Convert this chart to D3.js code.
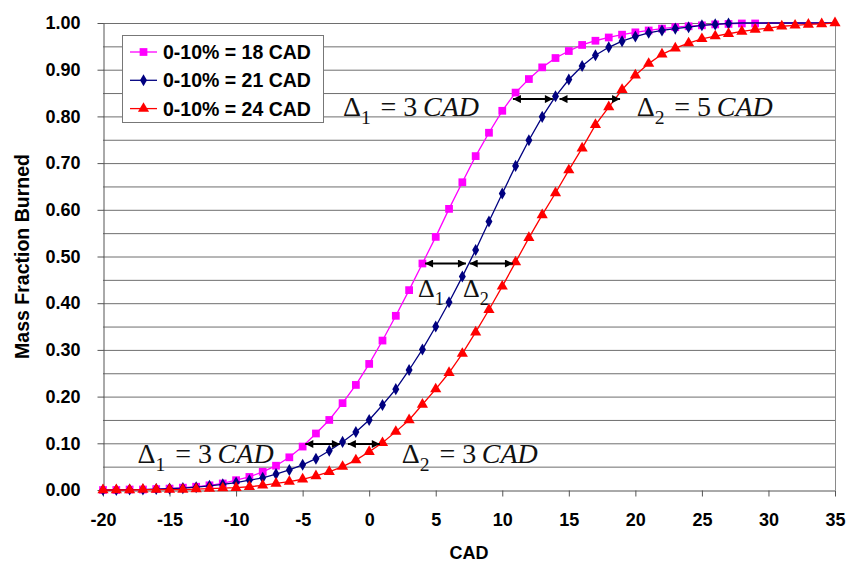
<!DOCTYPE html>
<html>
<head>
<meta charset="utf-8">
<script src="https://cdn.jsdelivr.net/npm/d3@7"></script>
<style>
  body { margin: 0; background: #fff; }
  svg { display: block; }
</style>
</head>
<body>
<svg width="847" height="563"></svg>
<script>
//crank angle grid, one point per degree
const cad = [-20,-19,-18,-17,-16,-15,-14,-13,-12,-11,-10,-9,-8,-7,-6,-5,-4,-3,-2,-1,
  0,1,2,3,4,5,6,7,8,9,10,11,12,13,14,15,16,17,18,19,20,21,22,23,24,25,26,27,28,29,30,31,32,33,34,35]

//mass fraction burned
const mfb18 = [0.000,0.000,0.001,0.001,0.002,0.003,0.005,0.007,0.010,0.014,0.021,0.028,0.039,0.052,0.070,0.093,0.121,0.150,0.186,0.225,
  0.270,0.320,0.373,0.428,0.485,0.542,0.602,0.659,0.715,0.765,0.812,0.851,0.880,0.905,0.925,0.940,0.953,0.962,0.969,0.975,
  0.980,0.984,0.988,0.991,0.993,0.995,0.997,0.998,0.999,0.999,1.000,1.000,1.000,1.000,1.000,1.000]
const mfb21 = [0.000,0.000,0.001,0.001,0.002,0.003,0.004,0.006,0.009,0.012,0.016,0.021,0.026,0.034,0.043,0.054,0.067,0.084,0.103,0.124,
  0.150,0.182,0.216,0.257,0.301,0.350,0.402,0.457,0.514,0.575,0.635,0.694,0.749,0.799,0.843,0.879,0.908,0.931,0.948,0.961,
  0.971,0.979,0.984,0.988,0.991,0.995,0.997,0.999,1.000,1.000,1.000,1.000,1.000,1.000,1.000,1.000]
const mfb24 = [0.000,0.000,0.000,0.001,0.001,0.001,0.001,0.002,0.003,0.004,0.005,0.007,0.010,0.014,0.018,0.023,0.030,0.039,0.050,0.064,
  0.082,0.101,0.125,0.150,0.183,0.216,0.251,0.292,0.338,0.386,0.436,0.488,0.540,0.589,0.636,0.685,0.732,0.782,0.820,0.857,
  0.888,0.913,0.933,0.946,0.957,0.966,0.972,0.977,0.982,0.986,0.989,0.993,0.995,0.997,0.998,1.000]

const seriesNames = ["0-10% = 18 CAD", "0-10% = 21 CAD", "0-10% = 24 CAD"]
//last crank angle that carries a marker
const markerEnd = [29, 27, 35]

const yTicks = [0, 0.1, 0.2, 0.3, 0.4, 0.5, 0.6, 0.7, 0.8, 0.9, 1.0]
const yGrid = [0.05, 0.1, 0.15, 0.2, 0.25, 0.3, 0.35, 0.4, 0.45, 0.5, 0.55, 0.6, 0.65, 0.7, 0.75, 0.8, 0.85, 0.9, 0.95, 1.0]
const xTicks = [-20, -15, -10, -5, 0, 5, 10, 15, 20, 25, 30, 35]

//double arrows between curves: [from, to, level]
const arrows = [
  [10.8, 13.8, 0.837], [14.3, 18.85, 0.837],
  [4.2, 7.27, 0.485], [7.55, 10.8, 0.485],
  [-4.8, -2.2, 0.0985], [-1.6, 0.8, 0.0985]
]
//delta labels: [cad, fraction, subscript, rest, size]
const deltaLabels = [
  [-1.97, 0.801, "1", "= 3", 28],
  [20.1, 0.801, "2", "= 5", 28],
  [3.67, 0.413, "1", "", 26],
  [7.05, 0.413, "2", "", 26],
  [-17.4, 0.058, "1", "= 3", 28],
  [2.45, 0.058, "2", "= 3", 28]
]

const svg = d3.select("svg")
  , width = +svg.attr("width")
  , height = +svg.attr("height")
  , margin = {top: 23, right: 12, bottom: 73, left: 103}

const x = d3.scaleLinear().domain([-20, 35]).range([margin.left, width - margin.right])
const y = d3.scaleLinear().domain([0, 1]).range([height - margin.bottom, margin.top])

const styles = [
  {color: "#ff00ff", shape: d3.symbolSquare, size: 60},
  {color: "#000080", shape: d3.symbolDiamond, size: 42},
  {color: "#ff0000", shape: d3.symbolTriangle, size: 54}
]
const series = [mfb18, mfb21, mfb24].map((vals, i) => ({
  name: seriesNames[i],
  style: styles[i],
  last: markerEnd[i],
  points: cad.map((c, j) => ({c: c, v: vals[j]}))
}))

//horizontal grid
svg.append("g").selectAll("line").data(yGrid).enter().append("line")
  .attr("x1", x(-20)).attr("x2", x(35))
  .attr("y1", d => y(d) + 0.5).attr("y2", d => y(d) + 0.5)
  .attr("stroke", "#6e6e6e").attr("stroke-width", 1)

//right border
svg.append("line")
  .attr("x1", x(35) + 0.5).attr("x2", x(35) + 0.5)
  .attr("y1", y(1)).attr("y2", y(0))
  .attr("stroke", "#8a8a8a")

//axes, plain hyphen for negatives like the source
const xAxis = svg.append("g")
  .attr("transform", "translate(0," + (y(0) + 0.5) + ")")
  .call(d3.axisBottom(x).tickValues(xTicks).tickFormat(d => String(d)).tickSize(6).tickPadding(17).tickSizeOuter(0))
const yAxis = svg.append("g")
  .attr("transform", "translate(" + (x(-20) + 0.5) + ",0)")
  .call(d3.axisLeft(y).tickValues(yTicks).tickFormat(d => d.toFixed(2)).tickSize(6).tickPadding(17).tickSizeOuter(0))

;[xAxis, yAxis].forEach(a => {
  a.selectAll("path, line").attr("stroke", "#555")
  a.selectAll("text")
    .attr("fill", "#000")
    .style("font-family", "'Liberation Sans', Arial, sans-serif")
    .style("font-weight", "bold")
    .style("font-size", "18px")
})

svg.append("text")
  .attr("x", (x(-20) + x(35)) / 2).attr("y", height - 4)
  .attr("text-anchor", "middle")
  .style("font-family", "'Liberation Sans', Arial, sans-serif")
  .style("font-weight", "bold").style("font-size", "18px")
  .text("CAD")

svg.append("text")
  .attr("transform", "translate(29," + (y(0.5)) + ") rotate(-90)")
  .attr("text-anchor", "middle")
  .style("font-family", "'Liberation Sans', Arial, sans-serif")
  .style("font-weight", "bold").style("font-size", "19.5px")
  .text("Mass Fraction Burned")

//curves
const line = d3.line().x(d => x(d.c)).y(d => y(d.v))
const curves = svg.append("g").selectAll("g").data(series).enter().append("g")

curves.append("path")
  .attr("d", d => line(d.points))
  .attr("fill", "none")
  .attr("stroke", d => d.style.color)
  .attr("stroke-width", 1.3)

curves.each(function(s) {
  d3.select(this).selectAll("path.mark")
    .data(s.points.filter(p => p.c <= s.last))
    .enter().append("path")
    .attr("class", "mark")
    .attr("transform", p => "translate(" + x(p.c) + "," + y(p.v) + ")")
    .attr("d", d3.symbol().type(s.style.shape).size(s.style.size))
    .attr("fill", s.style.color)
})

//arrow heads
const defs = svg.append("defs")
defs.append("marker").attr("id", "head")
  .attr("viewBox", "0 0 10 10").attr("refX", 10).attr("refY", 5)
  .attr("markerWidth", 10).attr("markerHeight", 8)
  .attr("markerUnits", "userSpaceOnUse")
  .attr("orient", "auto-start-reverse")
  .append("path").attr("d", "M0,0L10,5L0,10Z").attr("fill", "#000")

svg.append("g").selectAll("line").data(arrows).enter().append("line")
  .attr("x1", d => x(d[0])).attr("x2", d => x(d[1]))
  .attr("y1", d => y(d[2])).attr("y2", d => y(d[2]))
  .attr("stroke", "#000").attr("stroke-width", 2)
  .attr("marker-start", "url(#head)").attr("marker-end", "url(#head)")

//delta labels
const labels = svg.append("g").selectAll("text").data(deltaLabels).enter().append("text")
  .attr("x", d => x(d[0])).attr("y", d => y(d[1]))
  .style("font-family", "'Liberation Serif', 'Times New Roman', serif")
  .style("font-size", d => d[4] + "px")
  .attr("fill", "#111")

labels.append("tspan").text("\u0394")
labels.append("tspan")
  .attr("dy", d => d[4] * 0.3)
  .style("font-size", d => (d[4] * 0.7) + "px")
  .text(d => d[2])
labels.filter(d => d[3]).append("tspan")
  .attr("dy", d => -d[4] * 0.3)
  .attr("dx", d => d[4] * 0.35)
  .text(d => d[3] + "\u2009")
labels.filter(d => d[3]).append("tspan")
  .style("font-style", "italic")
  .text("CAD")

//legend
const legend = svg.append("g").attr("transform", "translate(122,35)")
legend.append("rect")
  .attr("x", 0.5).attr("y", 0.5).attr("width", 201).attr("height", 87)
  .attr("fill", "#fff").attr("stroke", "#777")

const items = legend.selectAll("g").data(series).enter().append("g")
  .attr("transform", (d, i) => "translate(0," + (17 + i * 28.3) + ")")
items.append("line")
  .attr("x1", 8).attr("x2", 35)
  .attr("stroke", d => d.style.color).attr("stroke-width", 1.3)
items.append("path")
  .attr("transform", "translate(21.5,0)")
  .attr("d", d => d3.symbol().type(d.style.shape).size(d.style.size)())
  .attr("fill", d => d.style.color)
items.append("text")
  .attr("x", 41).attr("y", 7)
  .style("font-family", "'Liberation Sans', Arial, sans-serif")
  .style("font-weight", "bold").style("font-size", "19.5px")
  .text(d => d.name)
</script>
</body>
</html>
